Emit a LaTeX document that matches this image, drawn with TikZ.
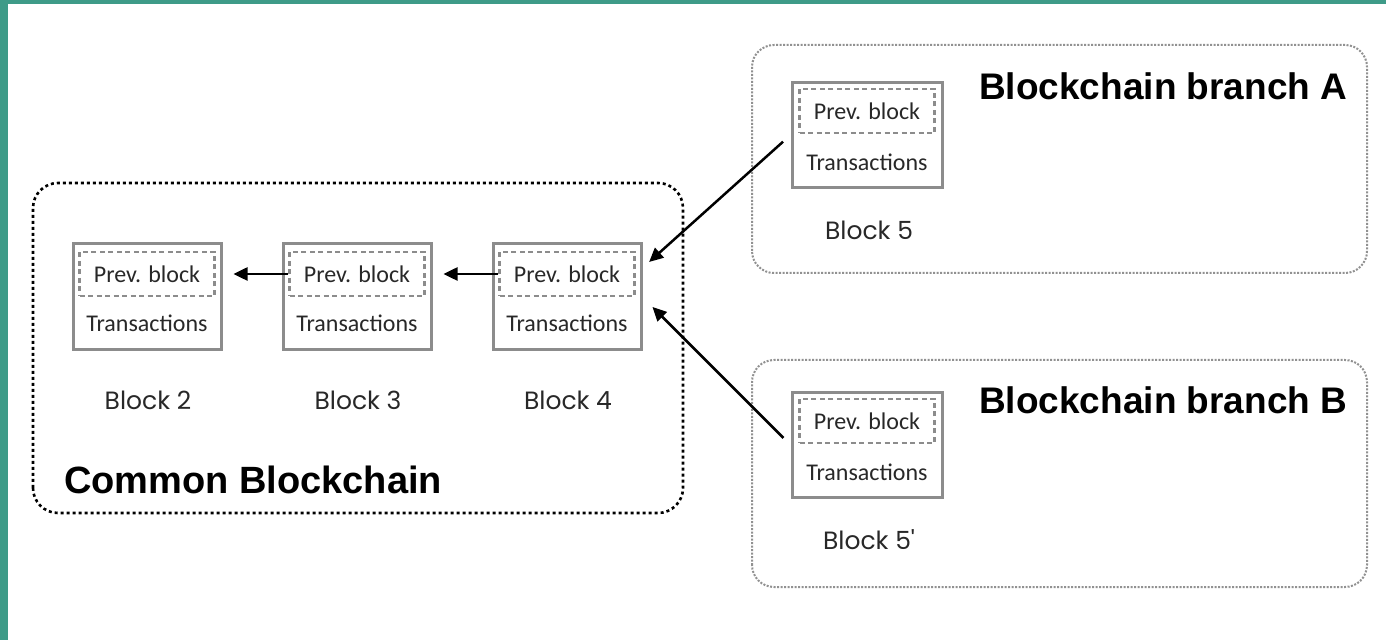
\documentclass[tikz,border=0pt]{standalone}
\usepackage{fontspec}
\setmainfont{Liberation Sans}
\newfontfamily\blockfont{Carlito}
\newfontfamily\labelfont{Poppins}
\usetikzlibrary{arrows.meta}

\tikzset{
  blockbox/.style={draw=blockColor, line width=3pt, minimum width=148pt, minimum height=106pt, inner sep=0pt},
  prevbox/.style={draw=prevColor, line width=2.4pt, dash pattern=on 5pt off 3.5pt, minimum width=135pt, minimum height=44pt, inner sep=0pt, text=txtColor, font=\blockfont\fontsize{24}{28}\selectfont},
  txlabel/.style={inner sep=0pt, text=txtColor, font=\blockfont\fontsize{24}{28}\selectfont},
  blklabel/.style={inner sep=0pt, text=txtColor, font=\labelfont\fontsize{25}{30}\selectfont},
  headlabel/.style={anchor=west, inner sep=0pt, font=\bfseries\fontsize{37}{44}\selectfont},
  chainarrow/.style={line width=2.5pt, -{Triangle[length=14pt,width=13pt]}},
}

\begin{document}
\begin{tikzpicture}[x=1pt,y=1pt]
\definecolor{tealColor}{RGB}{62,155,136}
\definecolor{blockColor}{RGB}{140,140,140}
\definecolor{prevColor}{RGB}{140,140,140}
\definecolor{branchColor}{RGB}{145,145,145}
\definecolor{txtColor}{RGB}{40,40,40}

% page and side bar
\path[fill=tealColor] (0,0) rectangle (1386,640);
\path[fill=white] (8,0) rectangle (1386,636);

% containers
\draw[line width=2.6pt, dash pattern=on 3pt off 3pt, rounded corners=25pt] (33,127) rectangle (683,457);
\draw[draw=branchColor, line width=2pt, dash pattern=on 2pt off 1.5pt, rounded corners=22pt] (752,367) rectangle (1367,595);
\draw[draw=branchColor, line width=2pt, dash pattern=on 2pt off 1.5pt, rounded corners=22pt] (752,53) rectangle (1367,280);

\node[headlabel] (headA) at (979,554) {Blockchain branch A};
\node[headlabel] (headB) at (979,240) {Blockchain branch B};
\node[headlabel, font=\bfseries\fontsize{38}{44}\selectfont] (headCommon) at (64,160) {Common Blockchain};

% common chain
\node[blockbox] (blkTwo) at (147,343) {};
\node[prevbox] (prevTwo) at (147,366) {Prev. block};
\node[txlabel] (txTwo) at (147,317) {Transactions};
\node[blklabel] (nameTwo) at (148,240) {Block 2};

\node[blockbox] (blkThree) at (357,343) {};
\node[prevbox] (prevThree) at (357,366) {Prev. block};
\node[txlabel] (txThree) at (357,317) {Transactions};
\node[blklabel] (nameThree) at (358,240) {Block 3};

\node[blockbox] (blkFour) at (567,343) {};
\node[prevbox] (prevFour) at (567,366) {Prev. block};
\node[txlabel] (txFour) at (567,317) {Transactions};
\node[blklabel] (nameFour) at (568,240) {Block 4};

% branches
\node[blockbox, minimum width=150pt, minimum height=105pt] (blkFive) at (867,505) {};
\node[prevbox] (prevFive) at (867,529) {Prev. block};
\node[txlabel] (txFive) at (867,478) {Transactions};
\node[blklabel] (nameFive) at (869,410) {Block 5};

\node[blockbox, minimum width=150pt, minimum height=105pt] (blkFiveB) at (867,195) {};
\node[prevbox] (prevFiveB) at (867,219) {Prev. block};
\node[txlabel] (txFiveB) at (867,168) {Transactions};
\node[blklabel] (nameFiveB) at (869,100) {Block 5\symbol{39}};

% links
\draw[chainarrow, shorten >=11pt] (prevThree.west) -- (prevThree.west -| blkTwo.east);
\draw[chainarrow, shorten >=11pt] (prevFour.west) -- (prevFour.west -| blkThree.east);
\draw[chainarrow, shorten <=10pt, shorten >=18pt] (blkFive.west) -- (prevFour.east);
\draw[chainarrow, shorten <=10pt, shorten >=14pt] (blkFiveB.west) -- (blkFour.east);
\end{tikzpicture}
\end{document}
